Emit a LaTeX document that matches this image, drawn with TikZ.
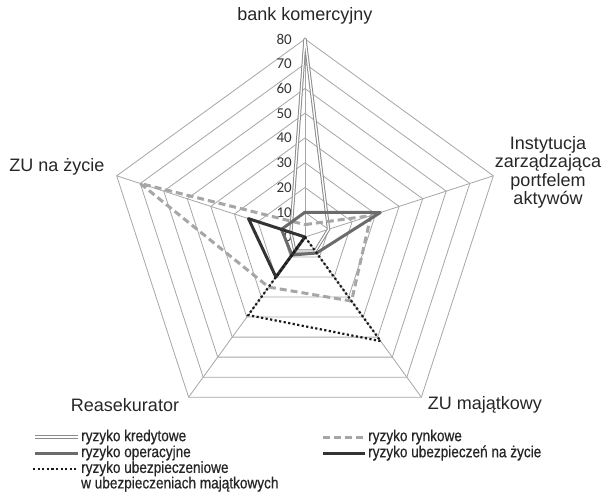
\documentclass[tikz,border=0pt]{standalone}
\usepackage{fontspec}
\setmainfont{Liberation Sans}
\newfontfamily\tickfont{Carlito}
\newfontfamily\legfont[FakeStretch=0.85,FakeBold=0.6]{Liberation Sans}
\usetikzlibrary{positioning}

\begin{document}
\begin{tikzpicture}[x=1pt,y=1pt,
	web/.style={draw=black!35,line width=0.8pt},
	cat/.style={inner sep=0pt,font=\fontsize{18}{18.5}\selectfont,text=black!85},
	tick/.style={inner sep=0pt,anchor=east,font=\tickfont\fontsize{15}{15}\selectfont,text=black!80},
	leg/.style={inner sep=0pt,font=\legfont\fontsize{16}{15.5}\selectfont,text=black!85,align=left},
	kredyt/.style={draw=black!45,double=white,double distance=1.3pt,line width=1pt,line join=round},
	operac/.style={draw=black!58,line width=3pt,line join=round},
	rynek/.style={draw=black!35,line width=3pt,dash pattern=on 7pt off 4pt},
	zycie/.style={draw=black!80,line width=3pt,line join=round},
	majatek/.style={draw=black!90,line width=2.2pt,dash pattern=on 2.2pt off 2.4pt}]
	
	\useasboundingbox (-305,-254) rectangle (297,237);
	
	% siatka
	\coordinate (o) at (0,0);
	\foreach \a [count=\i from 0] in {90,18,-54,-126,162}
		\coordinate (v\i) at (\a:198);
	\foreach \r in {1,...,8}
		\draw[web] (90:\r*24.75) -- (18:\r*24.75) -- (-54:\r*24.75) -- (-126:\r*24.75) -- (162:\r*24.75) -- cycle;
	\foreach \i in {0,...,4}
		\draw[web] (o) -- (v\i);
	\foreach \t in {0,10,...,80}
		\node[tick] (t\t) at (-13,\t*2.475) {\t};
	
	% kategorie
	\node[cat] (bank) at (0,221) {bank komercyjny};
	\node[cat,align=center] (inst) at (243,64.5) {Instytucja\\zarządzająca\\portfelem\\aktywów};
	\node[cat] (zum) at (180,-168) {ZU majątkowy};
	\node[cat] (reas) at (-180,-168) {Reasekurator};
	\node[cat] (zuz) at (-248,70) {ZU na życie};
	
	% serie
	\foreach \v [count=\i from 0] in {80,10,7,7,6}
		\coordinate (kr\i) at ({90-72*\i}:{\v*2.475});
	\foreach \v [count=\i from 0] in {10,32,8,9,10}
		\coordinate (op\i) at ({90-72*\i}:{\v*2.475});
	\foreach \v [count=\i from 0] in {5,28,32,25,70}
		\coordinate (ry\i) at ({90-72*\i}:{\v*2.475});
	\foreach \v [count=\i from 0] in {0,0,0,20,24}
		\coordinate (zy\i) at ({90-72*\i}:{\v*2.475});
	\foreach \v [count=\i from 0] in {0,0,52,39,0}
		\coordinate (ma\i) at ({90-72*\i}:{\v*2.475});
	
	\draw[kredyt] (kr0) -- (kr1) -- (kr2) -- (kr3) -- (kr4) -- cycle;
	\draw[rynek] (ry0) -- (ry1) -- (ry2) -- (ry3) -- (ry4) -- cycle;
	\draw[operac] (op0) -- (op1) -- (op2) -- (op3) -- (op4) -- cycle;
	\draw[zycie] (zy0) -- (zy1) -- (zy2) -- (zy3) -- (zy4) -- cycle;
	\draw[majatek] (ma0) -- (ma1) -- (ma2) -- (ma3) -- (ma4) -- cycle;
	
	% legenda
	\coordinate (lk1) at (-270,-200); \coordinate (lk2) at (-227,-200);
	\coordinate (lo1) at (-270,-216); \coordinate (lo2) at (-227,-216);
	\coordinate (lm1) at (-272,-232); \coordinate (lm2) at (-229,-232);
	\coordinate (lr1) at (18,-200); \coordinate (lr2) at (60,-200);
	\coordinate (lz1) at (18,-216); \coordinate (lz2) at (60,-216);
	\draw[kredyt] (lk1) -- (lk2);
	\draw[operac] (lo1) -- (lo2);
	\draw[majatek] (lm1) -- (lm2);
	\draw[rynek] (lr1) -- (lr2);
	\draw[zycie] (lz1) -- (lz2);
	\node[leg,right=3pt of lk2] (tk) {ryzyko kredytowe};
	\node[leg,right=3pt of lo2] (to) {ryzyko operacyjne};
	\node[leg,anchor=west] (tm) at (-224,-239.5) {ryzyko ubezpieczeniowe\\w ubezpieczeniach majątkowych};
	\node[leg,right=3pt of lr2] (tr) {ryzyko rynkowe};
	\node[leg,right=3pt of lz2] (tz) {ryzyko ubezpieczeń na życie};
\end{tikzpicture}
\end{document}
